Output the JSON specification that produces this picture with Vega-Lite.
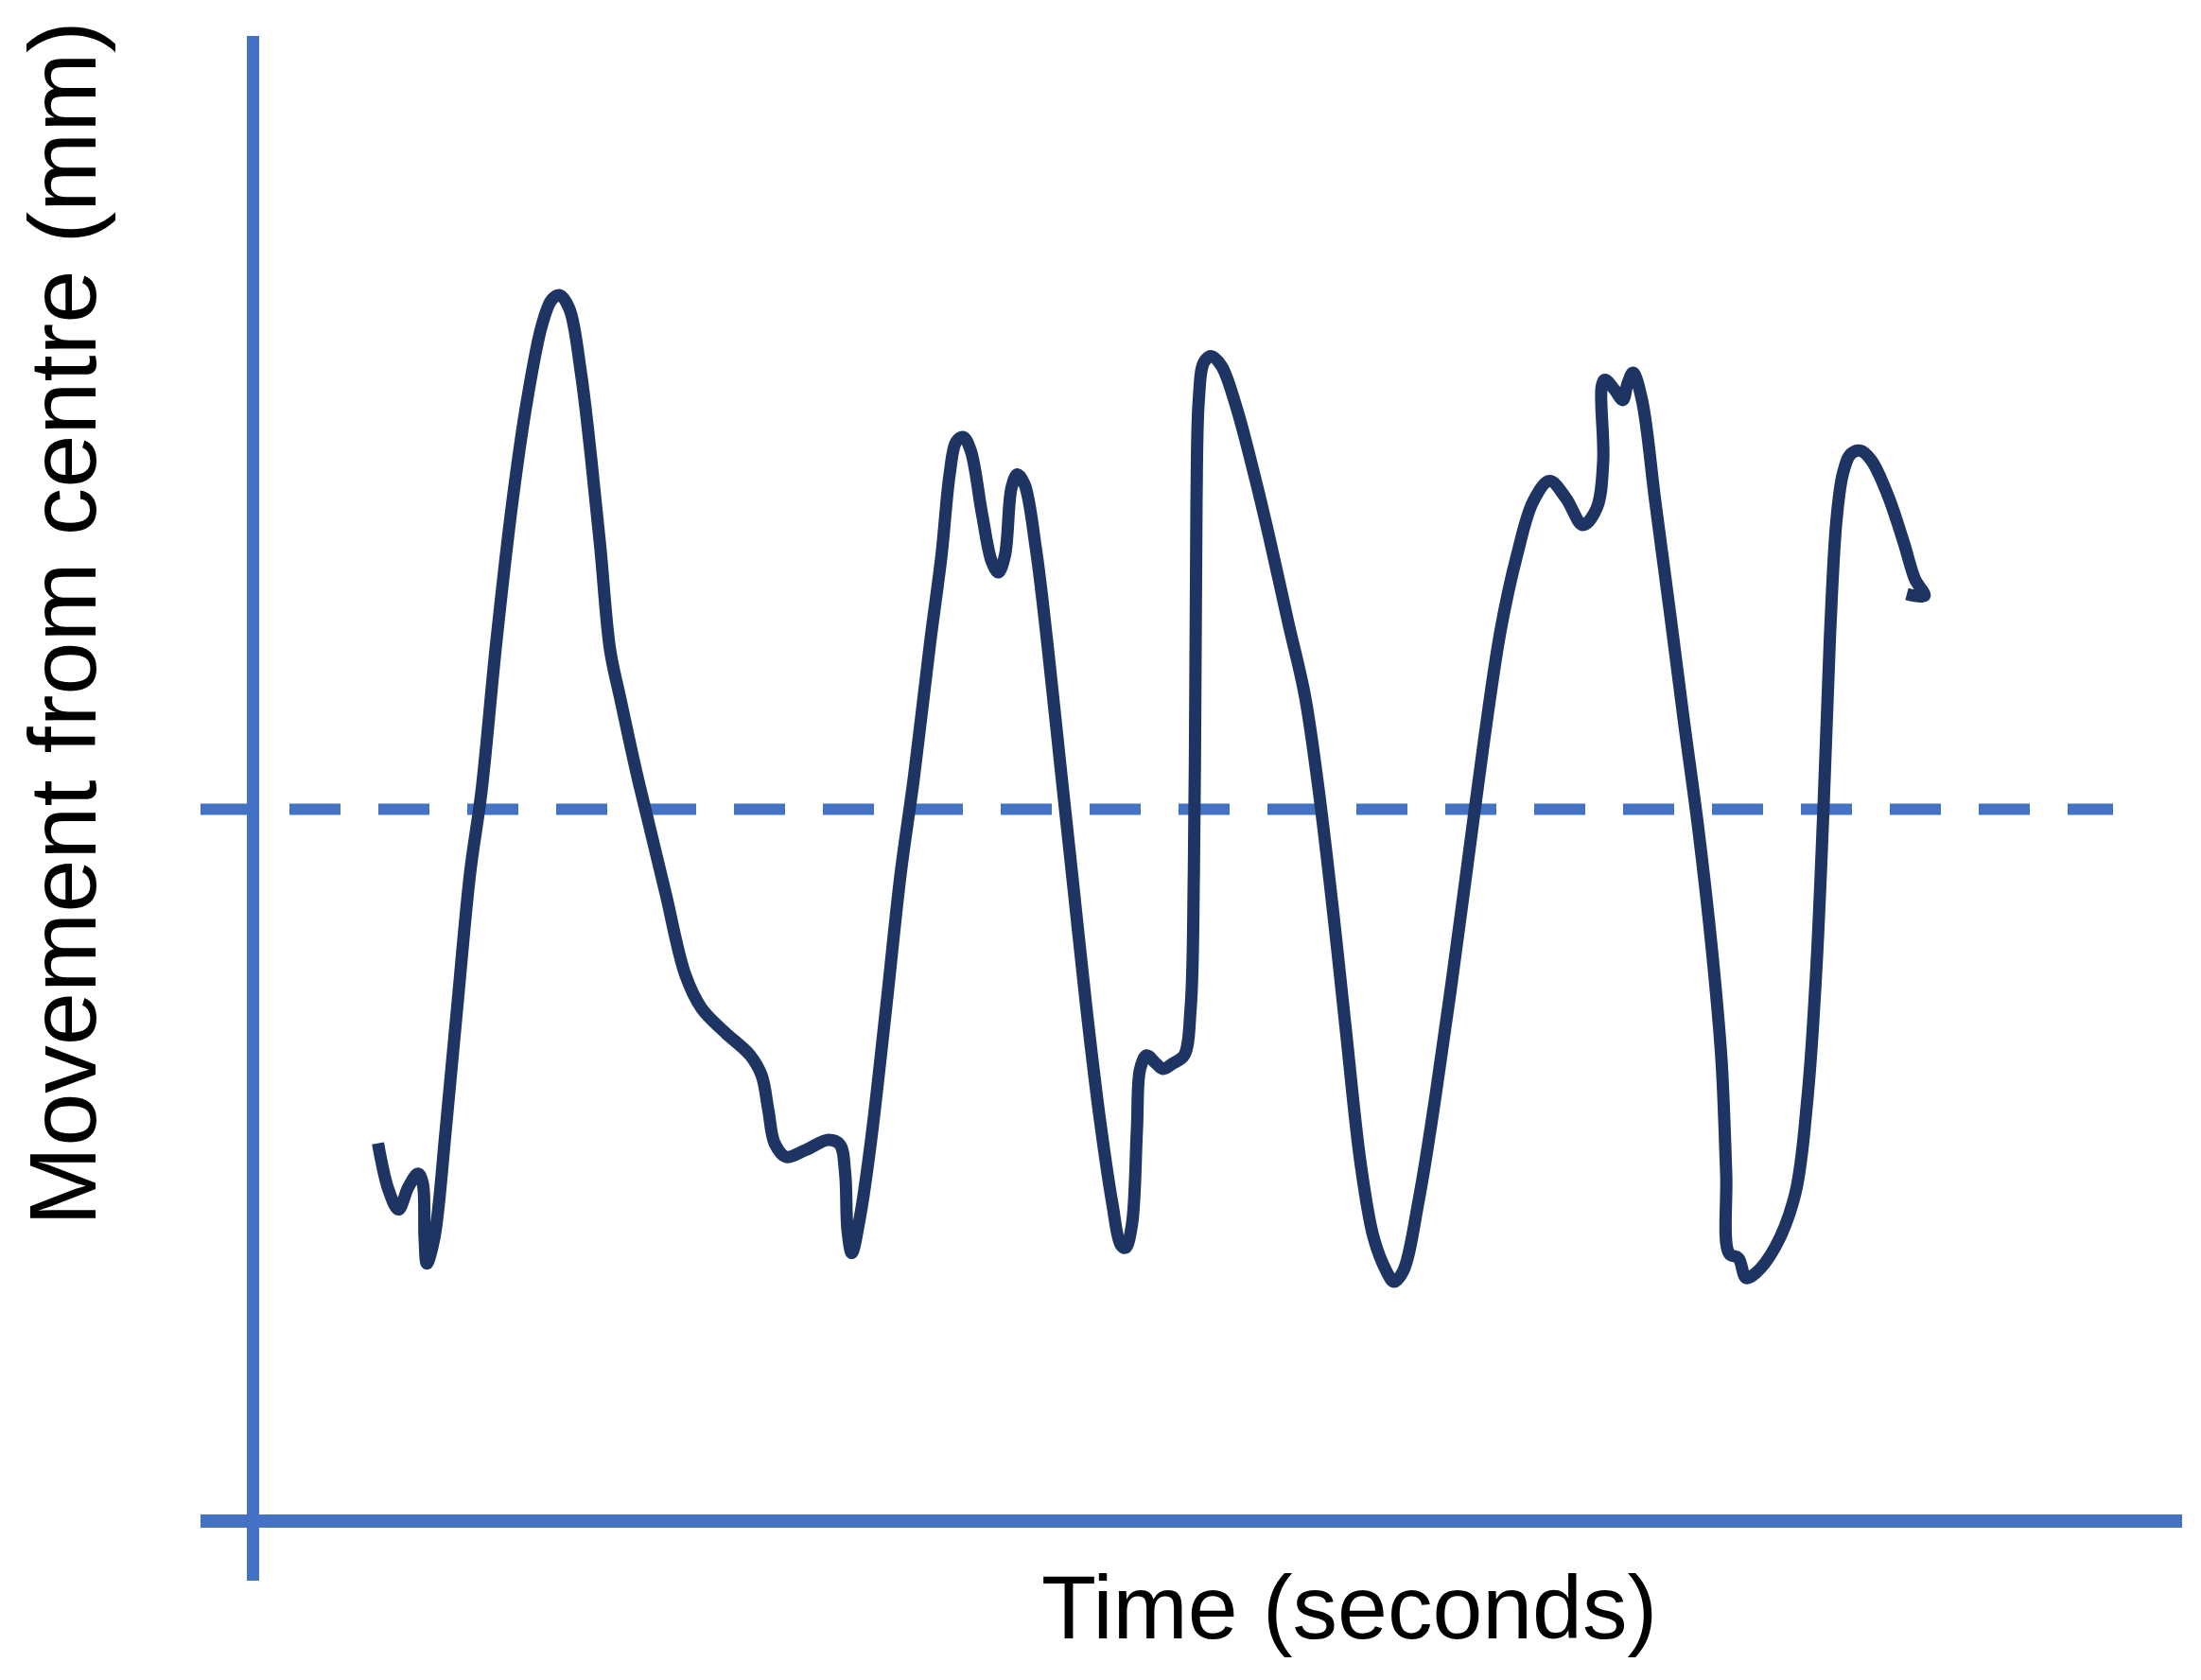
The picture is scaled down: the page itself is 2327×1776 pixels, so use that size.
{
  "$schema": "https://vega.github.io/schema/vega-lite/v6.json",
  "width": 2095,
  "height": 1633,
  "autosize": {"type": "none"},
  "padding": {"left": 212, "top": 38, "right": 20, "bottom": 105},
  "background": "white",
  "encoding": {
    "x": {
      "field": "t",
      "type": "quantitative",
      "scale": {"domain": [-0.555, 20.395], "nice": false, "zero": false},
      "axis": {
        "domain": false, "ticks": false, "labels": false, "grid": false,
        "title": "Time (seconds)",
        "titleFont": "Liberation Sans", "titleFontSize": 95, "titleFontWeight": "normal",
        "titleColor": "black", "titleX": 1214, "titleY": 60,
        "titleAlign": "center", "titleBaseline": "alphabetic"
      }
    },
    "y": {
      "field": "v",
      "type": "quantitative",
      "scale": {"domain": [-8.155, 8.175], "nice": false, "zero": false},
      "axis": {
        "domain": false, "ticks": false, "labels": false, "grid": false,
        "title": "Movement from centre (mm)",
        "titleFont": "Liberation Sans", "titleFontSize": 101, "titleFontWeight": "normal",
        "titleColor": "black", "titleX": -112, "titleY": 620.5, "titleAngle": 270,
        "titleAlign": "center", "titleBaseline": "alphabetic"
      }
    }
  },
  "layer": [
    {
      "data": {"values": [
        {"name": "y axis", "t": 0, "t2": 0, "v": -8.155, "v2": 8.175}
      ]},
      "mark": {"type": "rule", "color": "#4472c4", "strokeWidth": 13},
      "encoding": {"y2": {"field": "v2"}}
    },
    {
      "data": {"values": [
        {"name": "x axis", "t": -0.555, "t2": 20.395, "v": -7.525}
      ]},
      "mark": {"type": "rule", "color": "#4472c4", "strokeWidth": 14},
      "encoding": {"x2": {"field": "t2"}}
    },
    {
      "data": {"values": [
        {"name": "centre", "t": -0.555, "t2": 19.665, "v": 0}
      ]},
      "mark": {"type": "rule", "color": "#4472c4", "strokeWidth": 12, "strokeDash": [54, 40]},
      "encoding": {"x2": {"field": "t2"}}
    },
    {
      "data": {"values": [
        {"i": 1, "t": 1.321, "v": -3.531},
        {"i": 2, "t": 1.435, "v": -4.031},
        {"i": 3, "t": 1.538, "v": -4.231},
        {"i": 4, "t": 1.642, "v": -3.995},
        {"i": 5, "t": 1.745, "v": -3.852},
        {"i": 6, "t": 1.795, "v": -3.955},
        {"i": 7, "t": 1.814, "v": -4.531},
        {"i": 8, "t": 1.838, "v": -4.802},
        {"i": 9, "t": 1.917, "v": -4.531},
        {"i": 10, "t": 2.038, "v": -3.385},
        {"i": 11, "t": 2.158, "v": -2.102},
        {"i": 12, "t": 2.295, "v": -0.674},
        {"i": 13, "t": 2.415, "v": 0.185},
        {"i": 14, "t": 2.571, "v": 1.755},
        {"i": 15, "t": 2.743, "v": 3.255},
        {"i": 16, "t": 2.898, "v": 4.326},
        {"i": 17, "t": 3.053, "v": 5.112},
        {"i": 18, "t": 3.157, "v": 5.385},
        {"i": 19, "t": 3.243, "v": 5.435},
        {"i": 20, "t": 3.345, "v": 5.291},
        {"i": 21, "t": 3.467, "v": 4.612},
        {"i": 22, "t": 3.570, "v": 3.755},
        {"i": 23, "t": 3.673, "v": 2.755},
        {"i": 24, "t": 3.775, "v": 1.685},
        {"i": 25, "t": 3.880, "v": 1.185},
        {"i": 26, "t": 4.052, "v": 0.398},
        {"i": 27, "t": 4.190, "v": -0.174},
        {"i": 28, "t": 4.362, "v": -0.888},
        {"i": 29, "t": 4.569, "v": -1.745},
        {"i": 30, "t": 4.741, "v": -2.102},
        {"i": 31, "t": 4.982, "v": -2.352},
        {"i": 32, "t": 5.257, "v": -2.602},
        {"i": 33, "t": 5.378, "v": -2.815},
        {"i": 34, "t": 5.447, "v": -3.174},
        {"i": 35, "t": 5.515, "v": -3.531},
        {"i": 36, "t": 5.635, "v": -3.674},
        {"i": 37, "t": 5.843, "v": -3.602},
        {"i": 38, "t": 6.084, "v": -3.495},
        {"i": 39, "t": 6.205, "v": -3.545},
        {"i": 40, "t": 6.260, "v": -3.845},
        {"i": 41, "t": 6.285, "v": -4.445},
        {"i": 42, "t": 6.330, "v": -4.690},
        {"i": 43, "t": 6.420, "v": -4.295},
        {"i": 44, "t": 6.535, "v": -3.495},
        {"i": 45, "t": 6.693, "v": -2.102},
        {"i": 46, "t": 6.848, "v": -0.674},
        {"i": 47, "t": 6.986, "v": 0.326},
        {"i": 48, "t": 7.158, "v": 1.755},
        {"i": 49, "t": 7.279, "v": 2.685},
        {"i": 50, "t": 7.365, "v": 3.541},
        {"i": 51, "t": 7.434, "v": 3.885},
        {"i": 52, "t": 7.509, "v": 3.935},
        {"i": 53, "t": 7.588, "v": 3.791},
        {"i": 54, "t": 7.709, "v": 3.112},
        {"i": 55, "t": 7.812, "v": 2.612},
        {"i": 56, "t": 7.881, "v": 2.505},
        {"i": 57, "t": 7.950, "v": 2.685},
        {"i": 58, "t": 8.019, "v": 3.398},
        {"i": 59, "t": 8.081, "v": 3.541},
        {"i": 60, "t": 8.157, "v": 3.435},
        {"i": 61, "t": 8.277, "v": 2.755},
        {"i": 62, "t": 8.398, "v": 1.755},
        {"i": 63, "t": 8.535, "v": 0.469},
        {"i": 64, "t": 8.673, "v": -0.815},
        {"i": 65, "t": 8.811, "v": -2.102},
        {"i": 66, "t": 8.949, "v": -3.245},
        {"i": 67, "t": 9.086, "v": -4.174},
        {"i": 68, "t": 9.173, "v": -4.602},
        {"i": 69, "t": 9.225, "v": -4.635},
        {"i": 70, "t": 9.293, "v": -4.385},
        {"i": 71, "t": 9.345, "v": -3.385},
        {"i": 72, "t": 9.379, "v": -2.745},
        {"i": 73, "t": 9.448, "v": -2.602},
        {"i": 74, "t": 9.534, "v": -2.674},
        {"i": 75, "t": 9.620, "v": -2.745},
        {"i": 76, "t": 9.724, "v": -2.688},
        {"i": 77, "t": 9.844, "v": -2.602},
        {"i": 78, "t": 9.913, "v": -2.102},
        {"i": 79, "t": 9.947, "v": -0.674},
        {"i": 80, "t": 9.964, "v": 1.469},
        {"i": 81, "t": 9.975, "v": 3.255},
        {"i": 82, "t": 9.999, "v": 4.326},
        {"i": 83, "t": 10.051, "v": 4.719},
        {"i": 84, "t": 10.130, "v": 4.791},
        {"i": 85, "t": 10.240, "v": 4.685},
        {"i": 86, "t": 10.395, "v": 4.255},
        {"i": 87, "t": 10.567, "v": 3.612},
        {"i": 88, "t": 10.739, "v": 2.898},
        {"i": 89, "t": 10.946, "v": 1.969},
        {"i": 90, "t": 11.120, "v": 1.205},
        {"i": 91, "t": 11.260, "v": 0.255},
        {"i": 92, "t": 11.415, "v": -1.045},
        {"i": 93, "t": 11.555, "v": -2.345},
        {"i": 94, "t": 11.710, "v": -3.745},
        {"i": 95, "t": 11.848, "v": -4.531},
        {"i": 96, "t": 11.985, "v": -4.888},
        {"i": 97, "t": 12.062, "v": -4.995},
        {"i": 98, "t": 12.158, "v": -4.888},
        {"i": 99, "t": 12.330, "v": -4.102},
        {"i": 100, "t": 12.502, "v": -3.031},
        {"i": 101, "t": 12.675, "v": -1.815},
        {"i": 102, "t": 12.847, "v": -0.531},
        {"i": 103, "t": 13.019, "v": 0.755},
        {"i": 104, "t": 13.191, "v": 1.898},
        {"i": 105, "t": 13.363, "v": 2.685},
        {"i": 106, "t": 13.535, "v": 3.255},
        {"i": 107, "t": 13.708, "v": 3.469},
        {"i": 108, "t": 13.880, "v": 3.291},
        {"i": 109, "t": 14.060, "v": 3.005},
        {"i": 110, "t": 14.207, "v": 3.185},
        {"i": 111, "t": 14.275, "v": 3.685},
        {"i": 112, "t": 14.259, "v": 4.469},
        {"i": 113, "t": 14.293, "v": 4.541},
        {"i": 114, "t": 14.395, "v": 4.435},
        {"i": 115, "t": 14.482, "v": 4.326},
        {"i": 116, "t": 14.534, "v": 4.505},
        {"i": 117, "t": 14.590, "v": 4.615},
        {"i": 118, "t": 14.685, "v": 4.325},
        {"i": 119, "t": 14.825, "v": 3.255},
        {"i": 120, "t": 14.985, "v": 2.045},
        {"i": 121, "t": 15.125, "v": 0.955},
        {"i": 122, "t": 15.285, "v": -0.245},
        {"i": 123, "t": 15.425, "v": -1.495},
        {"i": 124, "t": 15.525, "v": -2.645},
        {"i": 125, "t": 15.575, "v": -3.845},
        {"i": 126, "t": 15.605, "v": -4.695},
        {"i": 127, "t": 15.705, "v": -4.745},
        {"i": 128, "t": 15.785, "v": -4.955},
        {"i": 129, "t": 15.885, "v": -4.905},
        {"i": 130, "t": 16.095, "v": -4.625},
        {"i": 131, "t": 16.305, "v": -4.065},
        {"i": 132, "t": 16.435, "v": -3.045},
        {"i": 133, "t": 16.525, "v": -1.745},
        {"i": 134, "t": 16.605, "v": 0.045},
        {"i": 135, "t": 16.672, "v": 1.825},
        {"i": 136, "t": 16.740, "v": 3.045},
        {"i": 137, "t": 16.808, "v": 3.545},
        {"i": 138, "t": 16.892, "v": 3.755},
        {"i": 139, "t": 16.994, "v": 3.791},
        {"i": 140, "t": 17.112, "v": 3.685},
        {"i": 141, "t": 17.282, "v": 3.325},
        {"i": 142, "t": 17.451, "v": 2.825},
        {"i": 143, "t": 17.570, "v": 2.435},
        {"i": 144, "t": 17.671, "v": 2.255},
        {"i": 145, "t": 17.485, "v": 2.275}
      ]},
      "mark": {
        "type": "line",
        "color": "#1e3462",
        "strokeWidth": 13,
        "interpolate": "catmull-rom",
        "strokeJoin": "round",
        "strokeCap": "butt"
      },
      "encoding": {"order": {"field": "i", "type": "quantitative"}}
    }
  ],
  "config": {"view": {"stroke": null}}
}
